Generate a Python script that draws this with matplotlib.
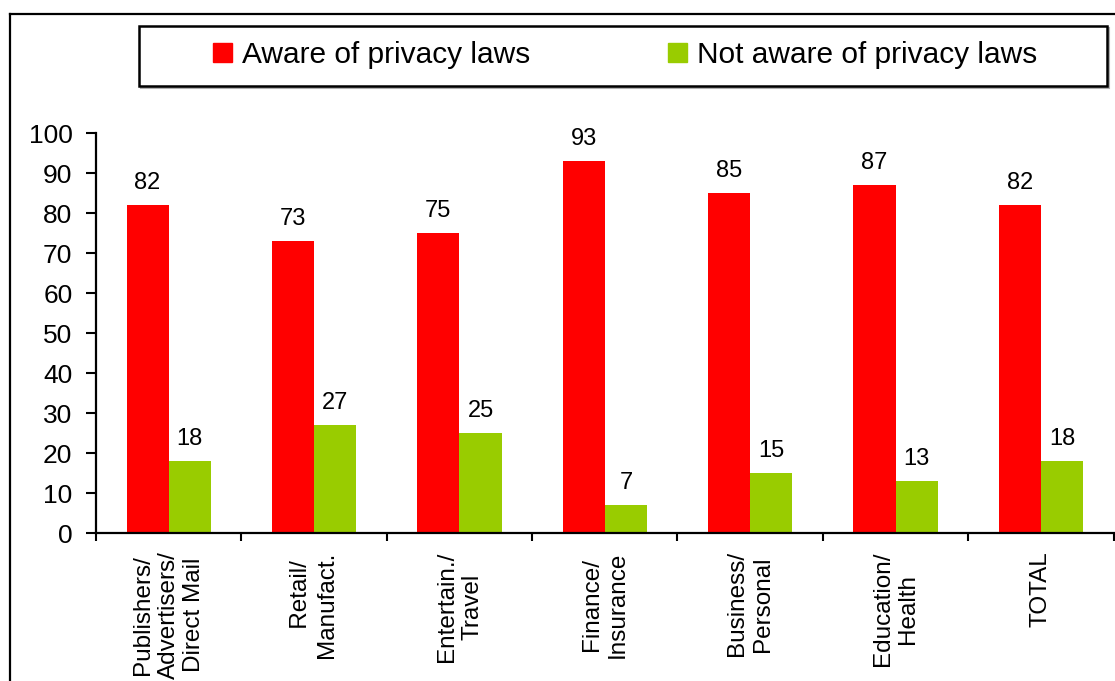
import matplotlib
matplotlib.use("Agg")
import matplotlib.pyplot as plt
from matplotlib.patches import Rectangle, Patch
from matplotlib.lines import Line2D
import numpy as np

plt.rcParams['font.family'] = ['Liberation Sans', 'DejaVu Sans']

categories = ["Publishers/\nAdvertisers/\nDirect Mail", "   Retail/\nManufact.",
              "Entertain./\nTravel", "Finance/\nInsurance", "Business/\nPersonal",
              "Education/\nHealth", "TOTAL"]
aware = [82, 73, 75, 93, 85, 87, 82]
not_aware = [18, 27, 25, 7, 15, 13, 18]
series_names = ["Aware of privacy laws", "Not aware of privacy laws"]
red = "#ff0000"
green = "#99cc00"

W, H = 1115, 681
fig = plt.figure(figsize=(W / 100, H / 100), dpi=100)

# plot area in pixel units converted to figure fractions
x0, x1 = 96, 1113.6
y_top, y_bot = 133.3, 533.3
ax = fig.add_axes([x0 / W, 1 - y_bot / H, (x1 - x0) / W, (y_bot - y_top) / H])

x = np.arange(len(categories))
bw = 0.29
ax.bar(x - bw / 2, aware, bw, color=red, label=series_names[0])
ax.bar(x + bw / 2, not_aware, bw, color=green, label=series_names[1])

for xi, v in zip(x - bw / 2, aware):
    ax.annotate(str(v), (xi, v), xytext=(0, 11.5), textcoords="offset points",
                ha="center", va="baseline", fontsize=17, clip_on=False)
for xi, v in zip(x + bw / 2, not_aware):
    ax.annotate(str(v), (xi, v), xytext=(0, 11.5), textcoords="offset points",
                ha="center", va="baseline", fontsize=17, clip_on=False)

ax.set_xlim(-0.5, len(categories) - 0.5)
ax.set_ylim(0, 100)
ax.set_yticks(range(0, 101, 10))
ax.tick_params(axis="y", direction="out", length=7, width=1.5, pad=10, labelsize=19)

# boundary ticks on the x axis, labels centred under each group
ax.set_xticks(np.arange(-0.5, len(categories), 1.0))
ax.set_xticklabels([])
ax.set_xticks(x, minor=True)
ax.set_xticklabels(categories, minor=True, rotation=90, ha="center", va="top",
                   multialignment="center", fontsize=17.5)
ax.tick_params(axis="x", which="major", direction="out", length=6, width=1.5)
ax.tick_params(axis="x", which="minor", length=0, pad=13)

for s in ["top", "right"]:
    ax.spines[s].set_visible(False)
for s in ["left", "bottom"]:
    ax.spines[s].set_linewidth(1.6)

# outer frame (top and left edges)
fig.add_artist(Line2D([10 / W, 1.0], [1 - 14 / H, 1 - 14 / H], color="black", lw=1.6))
fig.add_artist(Line2D([10 / W, 10 / W], [1 - 14 / H, 0], color="black", lw=1.6))

# legend box with a soft shadow
bx, by, bwid, bht = 139, 26, 968, 60
fig.patches.append(Rectangle(((bx + 2) / W, 1 - (by + bht + 2) / H), bwid / W, bht / H,
                             transform=fig.transFigure, facecolor="#b0b0b0",
                             edgecolor="#b0b0b0", lw=1.5, zorder=1))
fig.patches.append(Rectangle((bx / W, 1 - (by + bht) / H), bwid / W, bht / H,
                             transform=fig.transFigure, facecolor="white",
                             edgecolor="black", lw=1.8, zorder=2))

handles = [Patch(color=red), Patch(color=green)]
leg = fig.legend(handles, series_names, loc="center left",
                 bbox_to_anchor=(213 / W, 1 - 55 / H), ncol=2, frameon=False,
                 fontsize=21.5, handlelength=0.64, handleheight=0.6,
                 handletextpad=0.33, columnspacing=4.6, borderpad=0,
                 borderaxespad=0)
leg.set_zorder(3)

fig.savefig("out.png", dpi=100)
